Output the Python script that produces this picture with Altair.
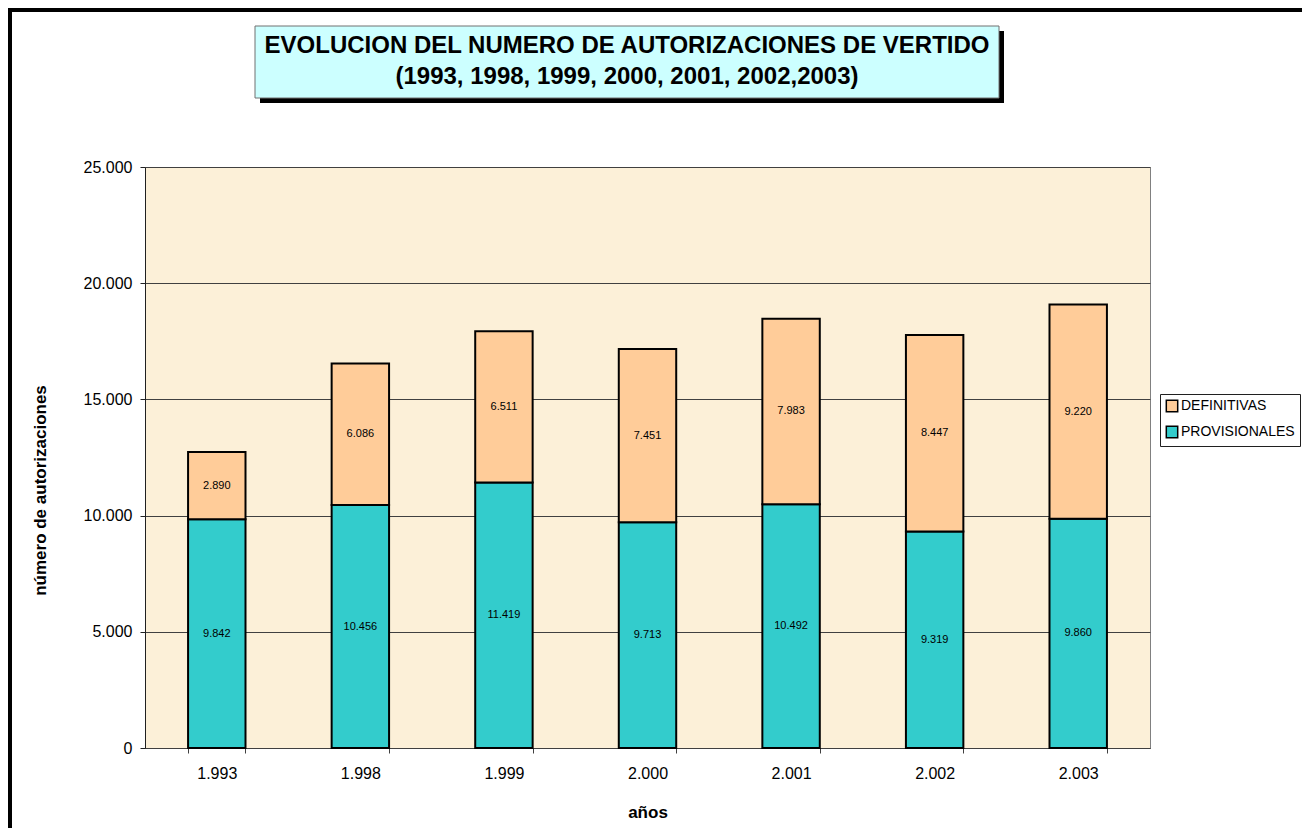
import altair as alt
import pandas as pd

years = ["1.993", "1.998", "1.999", "2.000", "2.001", "2.002", "2.003"]
provisionales = [9842, 10456, 11419, 9713, 10492, 9319, 9860]
definitivas = [2890, 6086, 6511, 7451, 7983, 8447, 9220]
series = ["DEFINITIVAS", "PROVISIONALES"]
colors = ["#FFCC99", "#33CCCC"]
title_lines = ["EVOLUCION DEL NUMERO DE AUTORIZACIONES DE VERTIDO",
               "(1993, 1998, 1999, 2000, 2001, 2002,2003)"]
y_ticks = [0, 5000, 10000, 15000, 20000, 25000]

FONT = "Arial, Liberation Sans, Helvetica, sans-serif"


def fmt(v):
    return f"{v:,}".replace(",", ".")


rows = []
for i, yr in enumerate(years):
    rows.append({"year": yr, "serie": "PROVISIONALES", "value": provisionales[i],
                 "ord": 0, "label": fmt(provisionales[i])})
    rows.append({"year": yr, "serie": "DEFINITIVAS", "value": definitivas[i],
                 "ord": 1, "label": fmt(definitivas[i])})
df = pd.DataFrame(rows)

W, H = 1005, 581
y_scale = alt.Scale(domain=[0, 25000], nice=False, zero=True)

x_enc = alt.X(
    "year:N", sort=years,
    scale=alt.Scale(paddingInner=0.6, paddingOuter=0.3),
    axis=alt.Axis(title="años", tickBand="extent", labelAngle=0, tickSize=5,
                  labelPadding=12, labelFontSize=16, labelFont=FONT, labelColor="black",
                  titleFontSize=17, titleFont=FONT, titleFontWeight="bold", titleColor="black",
                  titleY=64, titleBaseline="middle",
                  domainColor="#404040", tickColor="#404040"),
)
y_axis = alt.Axis(
    title="número de autorizaciones", values=y_ticks,
    labelExpr="replace(format(datum.value, ','), /,/g, '.')",
    grid=True, gridColor="#404040", gridWidth=1, tickSize=5, labelPadding=8,
    labelFontSize=16, labelFont=FONT, labelColor="black",
    titleFontSize=17, titleFont=FONT, titleFontWeight="bold", titleColor="black",
    titleX=-105, titleY=323, titleAngle=-90, titleBaseline="middle", titleAlign="center",
    domainColor="#202020", tickColor="#202020",
)

bars = alt.Chart(df).mark_bar(stroke="black", strokeWidth=2).encode(
    x=x_enc,
    y=alt.Y("value:Q", stack="zero", scale=y_scale, axis=y_axis),
    color=alt.Color(
        "serie:N", scale=alt.Scale(domain=series, range=colors),
        legend=alt.Legend(title=None, orient="none", legendX=1015, legendY=227,
                          direction="vertical", symbolType="square", symbolSize=130,
                          symbolStrokeColor="black", symbolStrokeWidth=1.5,
                          symbolOpacity=1,
                          labelFontSize=14, labelFont=FONT, labelColor="black",
                          strokeColor="#202020", fillColor="white", padding=5,
                          rowPadding=8, labelOffset=2),
    ),
    order=alt.Order("ord:Q"),
)

labels = alt.Chart(df).transform_stack(
    stack="value", as_=["v0", "v1"], groupby=["year"], sort=[alt.SortField("ord")]
).transform_calculate(mid="(datum.v0 + datum.v1) / 2").mark_text(
    fontSize=11, font=FONT, color="black"
).encode(
    x=alt.X("year:N", sort=years),
    y=alt.Y("mid:Q", scale=y_scale),
    text="label:N",
)

one = pd.DataFrame({"k": [0]})
shadow = alt.Chart(one).mark_rect(color="black").encode(
    x=alt.value(115), x2=alt.value(859), y=alt.value(-136), y2=alt.value(-64))
box = alt.Chart(one).mark_rect(fill="#CCFFFF", stroke="#707070", strokeWidth=1).encode(
    x=alt.value(110), x2=alt.value(854), y=alt.value(-141), y2=alt.value(-69))

title_marks = []
for line, ypos in zip(title_lines, [-121, -90]):
    title_marks.append(
        alt.Chart(pd.DataFrame({"t": [line]})).mark_text(
            fontSize=24, font=FONT, fontWeight="bold", color="black",
            baseline="middle", align="center"
        ).encode(x=alt.value(482), y=alt.value(ypos), text="t:N")
    )

border_left = alt.Chart(one).mark_rule(color="black", strokeWidth=4).encode(
    x=alt.value(-135), y=alt.value(-159), y2=alt.value(720))
border_top = alt.Chart(one).mark_rule(color="black", strokeWidth=4).encode(
    x=alt.value(-137), x2=alt.value(1200), y=alt.value(-157))

chart = alt.layer(
    border_left, border_top, shadow, box, *title_marks, bars, labels
).properties(
    width=W, height=H,
    autosize=alt.AutoSizeParams(type="none"),
    padding={"left": 137, "top": 159, "right": 152, "bottom": 80},
    background="white",
).configure_view(
    fill="#FCF0D8", stroke="#808080", strokeWidth=1
)

chart.save("out.html", embed_options={"renderer": "svg", "actions": False})
